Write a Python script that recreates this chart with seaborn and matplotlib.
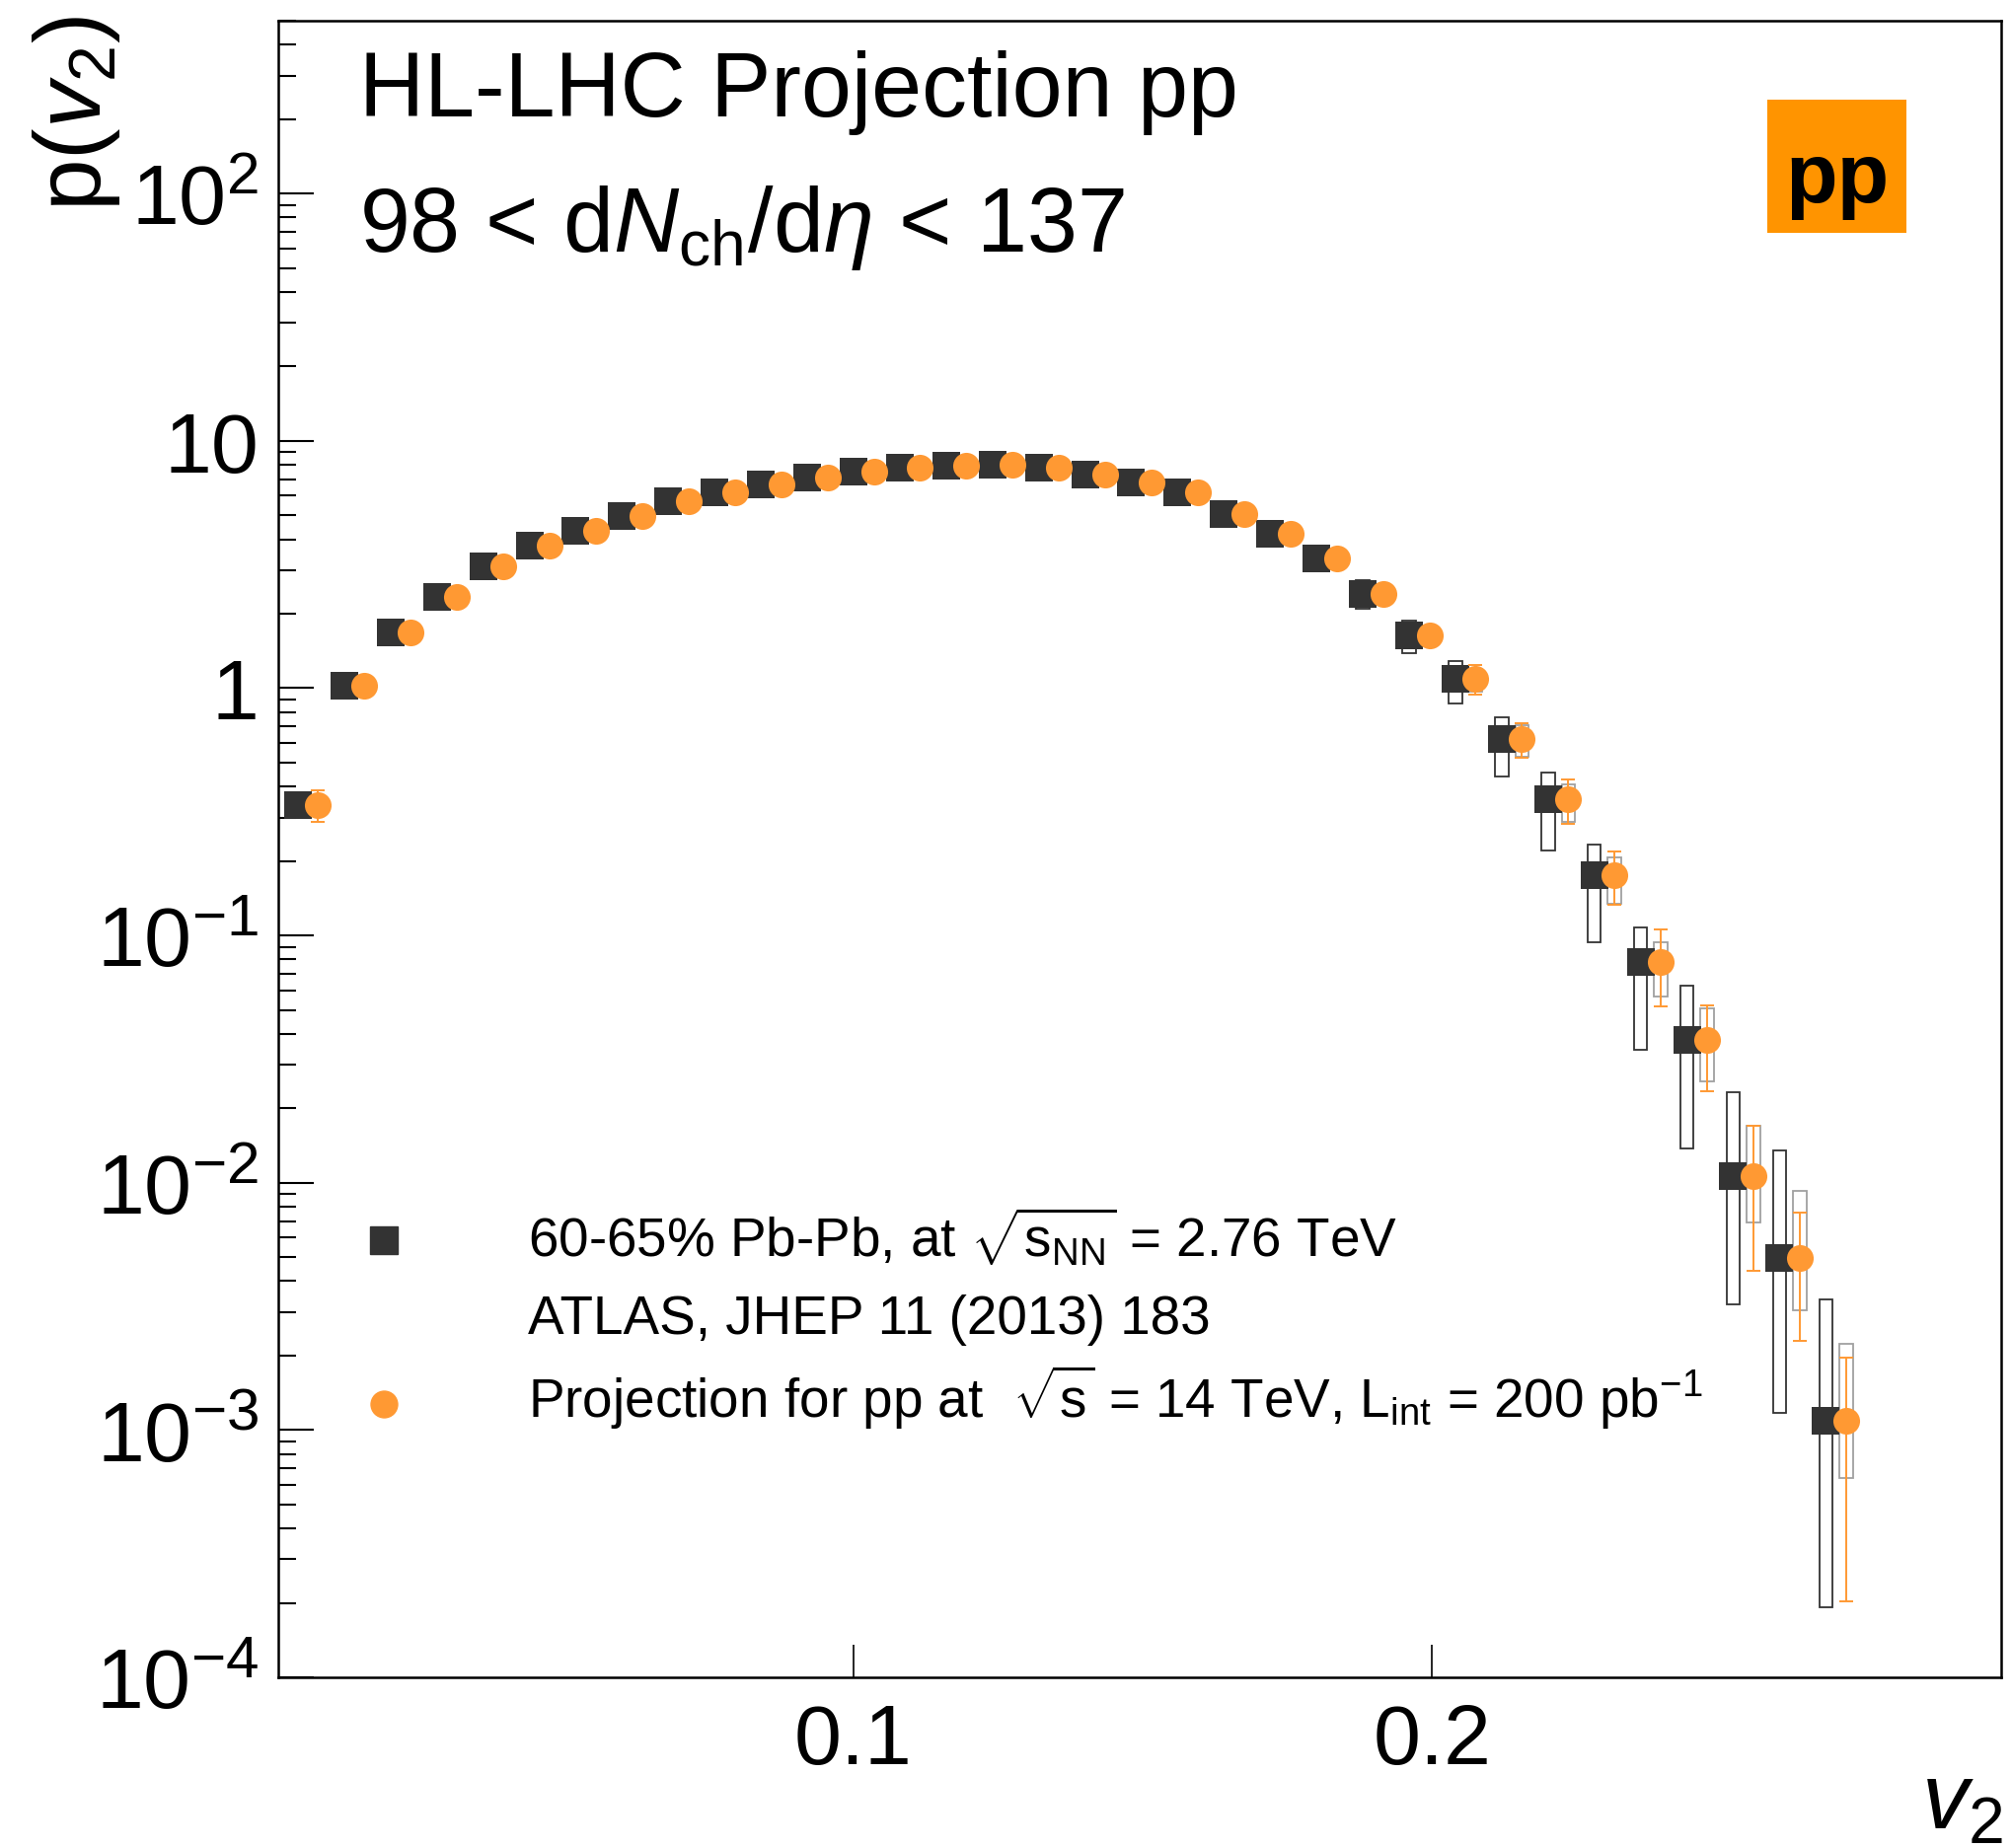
import numpy as np
import pandas as pd
import matplotlib
matplotlib.use("Agg")
import matplotlib.pyplot as plt
from matplotlib.patches import Rectangle
from matplotlib.ticker import LogLocator, FuncFormatter, FixedLocator, NullLocator
import seaborn as sns

# ---------------------------------------------------------------- data
# v2 bin centres
v2_centres = [0.004, 0.012, 0.020, 0.028, 0.036, 0.044, 0.052, 0.060, 0.068,
              0.076, 0.084, 0.092, 0.100, 0.108, 0.116, 0.124, 0.132, 0.140,
              0.148, 0.156, 0.164, 0.172, 0.180, 0.188, 0.196, 0.204, 0.212,
              0.220, 0.228, 0.236, 0.244, 0.252, 0.260, 0.268]

# 60-65% Pb-Pb p(v2)
pbpb_p = [0.337, 1.02, 1.674, 2.345, 3.10, 3.78, 4.33, 4.98, 5.69, 6.22,
          6.68, 7.13, 7.51, 7.79, 7.93, 8.03, 7.82, 7.33, 6.76, 6.18,
          5.04, 4.22, 3.36, 2.40, 1.64, 1.086, 0.620, 0.355, 0.176, 0.0782,
          0.0377, 0.01059, 0.00495, 0.001086]
# Pb-Pb systematic band edges
pbpb_sys_lo = [0.317, 0.96, 1.57, 2.20, 2.91, 3.55, 4.07, 4.68, 5.35, 5.85,
               6.28, 6.70, 7.06, 7.32, 7.45, 7.55, 7.35, 6.89, 6.35, 5.81,
               4.69, 3.88, 3.02, 2.09, 1.39, 0.866, 0.440, 0.220, 0.0937, 0.0346,
               0.0138, 0.00323, 0.00117, 0.000192]
pbpb_sys_hi = [0.357, 1.08, 1.77, 2.49, 3.29, 4.01, 4.59, 5.28, 6.03, 6.59,
               7.08, 7.56, 7.96, 8.26, 8.41, 8.51, 8.29, 7.77, 7.17, 6.55,
               5.39, 4.56, 3.70, 2.73, 1.88, 1.282, 0.763, 0.455, 0.234, 0.108,
               0.0629, 0.0233, 0.01356, 0.00336]

# pp projection (14 TeV, 200 pb^-1)
pp_p = [0.337, 1.02, 1.674, 2.345, 3.10, 3.78, 4.33, 4.98, 5.69, 6.22,
        6.68, 7.13, 7.51, 7.79, 7.93, 8.03, 7.82, 7.33, 6.76, 6.18,
        5.04, 4.22, 3.36, 2.40, 1.64, 1.086, 0.620, 0.355, 0.176, 0.0782,
        0.0377, 0.01059, 0.00495, 0.001086]
pp_stat_lo = [0.287, 0.99, 1.64, 2.30, 3.05, 3.73, 4.28, 4.93, 5.63, 6.16,
              6.61, 7.06, 7.43, 7.71, 7.84, 7.93, 7.72, 7.22, 6.64, 6.05,
              4.91, 4.08, 3.22, 2.27, 1.53, 0.946, 0.522, 0.283, 0.1334, 0.0517,
              0.0234, 0.00439, 0.0023, 0.000203]
pp_stat_hi = [0.386, 1.05, 1.71, 2.39, 3.15, 3.83, 4.38, 5.03, 5.75, 6.28,
              6.75, 7.20, 7.59, 7.87, 8.02, 8.13, 7.92, 7.44, 6.88, 6.31,
              5.17, 4.36, 3.50, 2.53, 1.75, 1.24, 0.720, 0.429, 0.219, 0.1053,
              0.0522, 0.0170, 0.0076, 0.00197]
pp_sys_lo = [0.324, 0.98, 1.61, 2.25, 2.98, 3.63, 4.16, 4.78, 5.46, 5.97,
             6.41, 6.84, 7.21, 7.48, 7.61, 7.71, 7.51, 7.04, 6.49, 5.93,
             4.84, 4.03, 3.18, 2.24, 1.50, 0.97, 0.53, 0.289, 0.1345, 0.0565,
             0.0257, 0.00689, 0.00305, 0.000638]
pp_sys_hi = [0.350, 1.06, 1.74, 2.44, 3.22, 3.93, 4.50, 5.18, 5.92, 6.47,
             6.95, 7.42, 7.81, 8.10, 8.25, 8.35, 8.13, 7.62, 7.03, 6.43,
             5.24, 4.41, 3.54, 2.56, 1.78, 1.20, 0.71, 0.408, 0.206, 0.0937,
             0.0506, 0.0170, 0.00923, 0.00224]

y_ticks = [1e-4, 1e-3, 1e-2, 1e-1, 1, 10, 100]
x_ticks = [0.1, 0.2]

# ---------------------------------------------------------------- style
sns.set_style("ticks")
plt.rcParams["font.family"] = ["Liberation Sans", "DejaVu Sans"]
plt.rcParams["mathtext.fontset"] = "custom"
plt.rcParams["mathtext.rm"] = "Liberation Sans"
plt.rcParams["mathtext.it"] = "Liberation Sans:italic"
plt.rcParams["mathtext.bf"] = "Liberation Sans:bold"
plt.rcParams["axes.unicode_minus"] = True
for key in ("text.color", "axes.labelcolor", "xtick.color", "ytick.color",
            "axes.edgecolor"):
    plt.rcParams[key] = "black"

W, H = 2039, 1874
fig = plt.figure(figsize=(W / 100, H / 100), dpi=100)
fig.patch.set_facecolor("white")

ax_l, ax_r, ax_t, ax_b = 282, 2028, 22, 1701
ax = fig.add_axes([ax_l / W, 1 - ax_b / H, (ax_r - ax_l) / W, (ax_b - ax_t) / H])
ax.set_facecolor("white")

DARK = "#333333"
ORANGE = "#ff9933"
GREY = "#a0a0a0"

x_pb = np.array(v2_centres)
x_pp = x_pb + 0.0035
box_w = 0.0023

# systematic boxes
for x, lo, hi in zip(x_pb, pbpb_sys_lo, pbpb_sys_hi):
    ax.add_patch(Rectangle((x - box_w / 2, lo), box_w, hi - lo, fill=False,
                           edgecolor=DARK, linewidth=1.3, zorder=2))
for x, lo, hi in zip(x_pp, pp_sys_lo, pp_sys_hi):
    ax.add_patch(Rectangle((x - box_w / 2, lo), box_w, hi - lo, fill=False,
                           edgecolor=GREY, linewidth=1.3, zorder=2))

df_pb = pd.DataFrame({"v2": x_pb, "p": pbpb_p})
df_pp = pd.DataFrame({"v2": x_pp, "p": pp_p})

sns.scatterplot(data=df_pb, x="v2", y="p", marker="s", color=DARK, s=405,
                linewidth=0, ax=ax, zorder=3, legend=False)

pp_arr = np.array(pp_p)
yerr = [pp_arr - np.array(pp_stat_lo), np.array(pp_stat_hi) - pp_arr]
ax.errorbar(x_pp, pp_arr, yerr=yerr, fmt="none", ecolor=ORANGE,
            elinewidth=1.4, capsize=4.9, capthick=1.4, zorder=4)

sns.scatterplot(data=df_pp, x="v2", y="p", marker="o", color=ORANGE, s=380,
                linewidth=0, ax=ax, zorder=5, legend=False)

# ---------------------------------------------------------------- axes
ax.set_yscale("log")
ax.set_xlim(0.0006, 0.2983)
ax.set_ylim(1e-4, 500)
ax.set_xlabel("")
ax.set_ylabel("")

ax.xaxis.set_major_locator(FixedLocator(x_ticks))
ax.xaxis.set_minor_locator(NullLocator())
ax.xaxis.set_major_formatter(FuncFormatter(lambda v, pos: f"{v:.1f}"))

ax.yaxis.set_major_locator(FixedLocator(y_ticks))
ax.yaxis.set_minor_locator(LogLocator(base=10, subs=np.arange(2, 10)))


def ylab(v, pos):
    e = int(round(np.log10(v)))
    if e == 0:
        return "1"
    if e == 1:
        return "10"
    return r"$10^{%d}$" % e


ax.yaxis.set_major_formatter(FuncFormatter(ylab))
ax.yaxis.set_minor_formatter(FuncFormatter(lambda v, pos: ""))

for s in ax.spines.values():
    s.set_linewidth(1.8)
    s.set_color("black")
    s.set_visible(True)

ax.tick_params(axis="y", which="major", direction="in", length=26, width=1.5,
               labelsize=62, pad=14, left=True, right=False, colors="black")
ax.tick_params(axis="y", which="minor", direction="in", length=13, width=1.5,
               left=True, right=False, colors="black")
ax.tick_params(axis="x", which="major", direction="in", length=24, width=1.2,
               labelsize=62, pad=18, bottom=True, top=False, colors="black")

# axis titles
fig.text(78 / W, 1 - 16 / H, r"p($v_{2}$)", rotation=90, ha="center", va="top",
         fontsize=68)
fig.text(2030 / W, 1 - 1873 / H, r"$v_{2}$", ha="right", va="bottom",
         fontsize=68)

# header texts
fig.text(364 / W, 1 - 118 / H, "HL-LHC Projection pp", ha="left",
         va="baseline", fontsize=66)
fig.text(364 / W, 1 - 255 / H, r"98 < d$N_{\mathrm{ch}}$/d$\eta$ < 137",
         ha="left", va="baseline", fontsize=66)

# pp badge
fig.patches.append(Rectangle((1791 / W, 1 - 237 / H), 141 / W, 135 / H,
                             transform=fig.transFigure, facecolor="#ff9400",
                             edgecolor="none", zorder=1))
fig.text(1862 / W, 1 - 205 / H, "pp", ha="center", va="baseline",
         fontsize=62, fontweight="bold", zorder=2)

# legend
fig.lines.append(plt.Line2D([389 / W], [1 - 1258 / H], marker="s",
                            markersize=20.2, color=DARK, linestyle="none",
                            transform=fig.transFigure))
fig.lines.append(plt.Line2D([389 / W], [1 - 1424 / H], marker="o",
                            markersize=19.4, color=ORANGE, linestyle="none",
                            transform=fig.transFigure))
fig.text(535 / W, 1 - 1274 / H,
         r"60-65% Pb-Pb, at $\sqrt{\mathrm{s}_{\mathrm{NN}}}$ = 2.76 TeV",
         ha="left", va="baseline", fontsize=39.5)
fig.text(535 / W, 1 - 1352 / H, "ATLAS, JHEP 11 (2013) 183",
         ha="left", va="baseline", fontsize=39.5)
fig.text(535 / W, 1 - 1437 / H,
         r"Projection for pp at  $\sqrt{\mathrm{s}}$ = 14 TeV, L$_{\mathrm{int}}$ = 200 pb$^{\mathrm{-1}}$",
         ha="left", va="baseline", fontsize=39.5)

fig.savefig("out.png", dpi=100, facecolor="white")
